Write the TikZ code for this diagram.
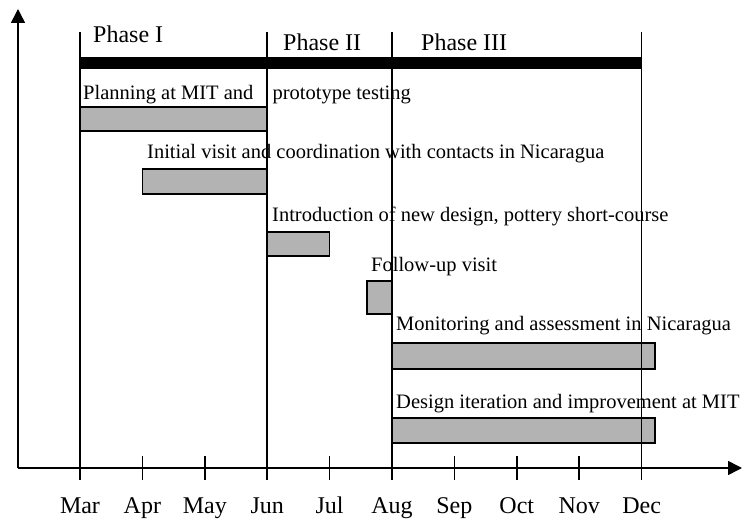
\documentclass[tikz,border=0pt]{standalone}
\usepackage{fontspec}
\setmainfont{Liberation Serif}
\usetikzlibrary{arrows.meta}
\definecolor{barfill}{RGB}{179,179,179}
\tikzset{
    axis/.style={line width=1.5pt, -{Triangle[length=14pt,width=14pt]}},
    phaseline/.style={line width=1.5pt},
    tick/.style={line width=1.5pt},
    taskbar/.style={draw, line width=1.1pt, fill=barfill},
    tasklabel/.style={anchor=base west, inner sep=0pt, font=\fontsize{20.5}{24}\selectfont},
    phaselabel/.style={anchor=base west, inner sep=0pt, font=\fontsize{24}{28}\selectfont},
    monthlabel/.style={anchor=base, inner sep=0pt, font=\fontsize{24}{28}\selectfont}
}
\begin{document}
\begin{tikzpicture}[x=1pt,y=-1pt]
                \useasboundingbox (0,0) rectangle (745,521);
                \coordinate (O) at (18,468);
                \coordinate (Y) at (18,9);
                \coordinate (X) at (742,468);
                \foreach \m [count=\i from 0] in {Mar,Apr,May,Jun,Jul,Aug,Sep,Oct,Nov,Dec} {
                    \coordinate (\m) at (80+62.4*\i,468);
                    \node[monthlabel] (lab\m) at (80+62.4*\i,513) {\m};
                }
                \draw[taskbar] (Mar |- 0,107) rectangle (Jun |- 0,131);
                \draw[taskbar] (Apr |- 0,169) rectangle (Jun |- 0,194);
                \draw[taskbar] (Jun |- 0,232) rectangle (Jul |- 0,256);
                \draw[taskbar] (367,281) rectangle (Aug |- 0,314);
                \draw[taskbar] (Aug |- 0,343) rectangle (655,369);
                \draw[taskbar] (Aug |- 0,418) rectangle (655,443);
                \node[tasklabel] (planning) at (83,100) {Planning at MIT and\hspace{14pt} prototype testing};
                \node[tasklabel] (initial) at (147,159) {Initial visit and coordination with contacts in Nicaragua};
                \node[tasklabel] (intro) at (272,222) {Introduction of new design, pottery short-course};
                \node[tasklabel] (followup) at (371,272) {Follow-up visit};
                \node[tasklabel] (monitoring) at (396,331) {Monitoring and assessment in Nicaragua};
                \node[tasklabel] (iteration) at (396,409) {Design iteration and improvement at MIT};
                \fill (Mar |- 0,57) rectangle (Dec |- 0,69);
                \node[phaselabel] (phaseI) at (93,43) {Phase I};
                \node[phaselabel] (phaseII) at (283,51) {Phase II};
                \node[phaselabel] (phaseIII) at (421,51) {Phase III};
                \foreach \m in {Mar,Jun,Aug,Dec}
                    \draw[phaseline] (\m |- 0,32) -- ([yshift=-12pt]\m);
                \foreach \m in {Apr,May,Jul,Sep,Oct,Nov}
                    \draw[tick] ([yshift=12pt]\m) -- ([yshift=-12pt]\m);
                \draw[axis] (O) -- (Y);
                \draw[axis] (O) -- (X);
            \end{tikzpicture}
\end{document}
